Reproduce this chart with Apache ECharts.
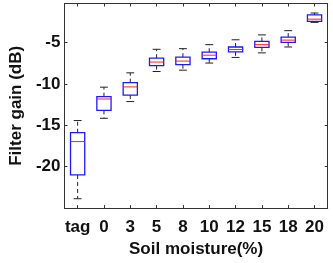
<!DOCTYPE html>
<html><head><meta charset="utf-8">
<script src="https://cdn.jsdelivr.net/npm/echarts@6/dist/echarts.min.js"></script>
<style>html,body{margin:0;padding:0;background:#fff}#c{width:333px;height:263px}</style>
</head><body><div id="c"></div>
<script>
const categories = ['tag','0','3','5','8','10','12','15','18','20'];
const lowerWhisker = [-23.87,-14.16,-12.14,-8.51,-8.35,-7.49,-6.81,-6.26,-5.55,-2.58];
const q1 =           [-21.0,-13.21,-11.35,-7.80,-7.68,-6.97,-6.14,-5.59,-5.00,-2.46];
const median =       [-16.97,-11.83,-10.37,-7.37,-7.25,-6.54,-5.86,-5.27,-4.72,-2.19];
const q3 =           [-15.9,-11.55,-9.86,-6.90,-6.78,-6.18,-5.55,-4.88,-4.36,-1.68];
const upperWhisker = [-14.43,-10.4,-8.67,-5.83,-5.75,-5.27,-4.68,-4.09,-3.58,-1.45];
const yTickLabels = [-20,-15,-10,-5];

const data = categories.map((c,i)=>[i, lowerWhisker[i], q1[i], median[i], q3[i], upperWhisker[i]]);
const font = {fontFamily:'Liberation Sans, Arial, sans-serif', fontWeight:'bold', color:'#111'};
const axisLineColor = '#333';

function renderItem(params, api){
  const i = api.value(0);
  const band = api.size([1,0])[0];
  const hw = band*0.27, cw = band*0.15;
  const pLow = api.coord([i, api.value(1)]);
  const pQ1 = api.coord([i, api.value(2)]);
  const pMed = api.coord([i, api.value(3)]);
  const pQ3 = api.coord([i, api.value(4)]);
  const pHigh = api.coord([i, api.value(5)]);
  const x = pMed[0];
  const black = {stroke:'#222', lineWidth:1};
  const dashed = {stroke:'#222', lineWidth:1, lineDash:[4,3]};
  return {type:'group', children:[
    {type:'line', shape:{x1:x,y1:pQ3[1],x2:x,y2:pHigh[1]}, style:dashed},
    {type:'line', shape:{x1:x,y1:pQ1[1],x2:x,y2:pLow[1]}, style:dashed},
    {type:'line', shape:{x1:x-cw,y1:pHigh[1],x2:x+cw,y2:pHigh[1]}, style:black},
    {type:'line', shape:{x1:x-cw,y1:pLow[1],x2:x+cw,y2:pLow[1]}, style:black},
    {type:'rect', shape:{x:x-hw,y:pQ3[1],width:2*hw,height:pQ1[1]-pQ3[1]}, style:{fill:'#fff', stroke:'#1a1aff', lineWidth:1.3}},
    {type:'line', shape:{x1:x-hw,y1:pMed[1],x2:x+hw,y2:pMed[1]}, style:{stroke:'#ff2020', lineWidth:1}}
  ]};
}

const chart = echarts.init(document.getElementById('c'));
const yCommon = {type:'value', min:-25, max:-0.3, interval:5, splitLine:{show:false},
  axisLine:{show:true, lineStyle:{color:axisLineColor}},
  axisTick:{show:true, inside:true, length:3, lineStyle:{color:axisLineColor}}};
const xCommon = {type:'category', data:categories, boundaryGap:true,
  axisLine:{show:true, lineStyle:{color:axisLineColor}},
  axisTick:{show:true, inside:true, length:3, alignWithLabel:true, interval:0, lineStyle:{color:axisLineColor}}};
chart.setOption({
  animation:false,
  grid:{left:54.5, top:3.5, right:5.3, bottom:52},
  xAxis:[
    Object.assign({}, xCommon, {position:'bottom',
      axisLabel:Object.assign({fontSize:17, margin:11, interval:0}, font),
      name:'Soil moisture(%)', nameLocation:'middle', nameGap:25,
      nameTextStyle:Object.assign({fontSize:17}, font)}),
    Object.assign({}, xCommon, {position:'top', axisLabel:{show:false}})
  ],
  yAxis:[
    Object.assign({}, yCommon, {position:'left',
      axisLabel:Object.assign({fontSize:17, margin:4, showMinLabel:true, showMaxLabel:true,
        formatter:v=>yTickLabels.includes(v)?String(v):''}, font),
      name:'Filter gain (dB)', nameLocation:'middle', nameGap:39,
      nameTextStyle:Object.assign({fontSize:17}, font)}),
    Object.assign({}, yCommon, {position:'right', axisLabel:{show:false}})
  ],
  series:[{type:'custom', renderItem:renderItem, data:data, encode:{x:0, y:[1,2,3,4,5]}, xAxisIndex:0, yAxisIndex:0}]
});
</script></body></html>
